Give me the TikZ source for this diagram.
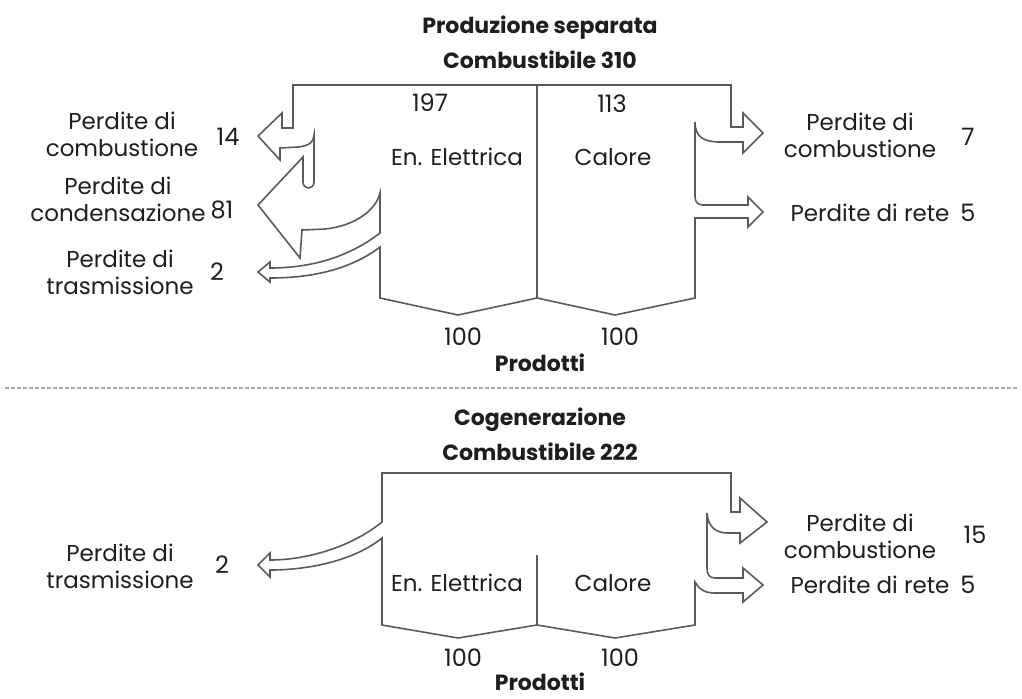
\documentclass[tikz,border=0pt]{standalone}
\usepackage{fontspec}
\setmainfont{Poppins}
\usepackage{tikz}
\definecolor{linea}{HTML}{5A5A5A}
\definecolor{testo}{HTML}{1E1E1E}

\begin{document}
\begin{tikzpicture}[
    x=0.5pt, y=-0.5pt,
    flow/.style={draw=linea, line width=0.8pt, line join=miter},
    lbl/.style={align=center, text=testo, font=\fontsize{11.5}{13.5}\selectfont, inner sep=0pt},
    num/.style={text=testo, font=\fontsize{12}{14}\selectfont, inner sep=0pt},
    head/.style={text=testo, font=\bfseries\fontsize{11}{13}\selectfont, inner sep=0pt}
  ]
    \useasboundingbox (0,0) rectangle (1022,698);

    % produzione separata
    \node[head] (tit1) at (540,28) {Produzione separata};
    \node[head] (comb1) at (540,60) {Combustibile 310};

    \draw[flow] (731,127) -- (731,85) -- (293,85) -- (293,128) -- (282,128) -- (282,113)
      -- (258,136) -- (280,160) -- (280,148) -- (298,147) .. controls (309,146) and (314,142) .. (314,135)
      -- (314,182) .. controls (314,190) and (303,190) .. (303,182) -- (303,157)
      -- (258,205) -- (300,258) -- (302,230) -- (325,229) .. controls (355,226) and (376,210) .. (380,193)
      -- (380,233) .. controls (345,260) and (305,268) .. (270,268) -- (270,262) -- (258,272) -- (270,282)
      -- (270,278) .. controls (310,278) and (350,270) .. (380,247)
      -- (380,298) -- (458,315) -- (537,298) -- (615,315) -- (695,298)
      -- (695,218) -- (748,218) -- (748,227) -- (763,212) -- (748,197) -- (748,205) -- (703,205)
      .. controls (698,205) and (695,202) .. (695,197) -- (695,122)
      .. controls (695,137) and (704,142) .. (720,142) -- (743,142) -- (743,153) -- (763,133)
      -- (743,113) -- (743,127) -- cycle;
    \draw[flow] (537,85) -- (537,298);

    \node[num] (n197) at (430,103) {197};
    \node[num] (n113) at (612,104) {113};
    \node[lbl] (ee1) at (457,157) {En. Elettrica};
    \node[lbl] (cal1) at (613,157) {Calore};
    \node[num] (ea1) at (463,337) {100};
    \node[num] (ca1) at (620,337) {100};
    \node[head] (prod1) at (540,363) {Prodotti};

    \node[lbl] (l14) at (122,134) {Perdite di\\combustione};
    \node[num] (n14) at (228,137) {14};
    \node[lbl] (l81) at (118,199) {Perdite di\\condensazione};
    \node[num] (n81) at (222,210) {81};
    \node[lbl] (l2) at (120,272) {Perdite di\\trasmissione};
    \node[num] (n2) at (217,272) {2};
    \node[lbl] (r7) at (860,135) {Perdite di\\combustione};
    \node[num] (n7) at (968,137) {7};
    \node[lbl] (r5) at (870,213) {Perdite di rete};
    \node[num] (n5) at (968,213) {5};

    \draw[linea!50, line width=0.8pt, dash pattern=on 2pt off 1pt] (5,388) -- (1017,388);

    % cogenerazione
    \node[head] (tit2) at (540,420) {Cogenerazione};
    \node[head] (comb2) at (540,452) {Combustibile 222};

    \draw[flow] (731,512) -- (731,473) -- (382,473) -- (382,522)
      .. controls (350,548) and (305,560) .. (270,560) -- (270,553) -- (258,565) -- (270,577)
      -- (270,570) .. controls (310,570) and (355,560) .. (382,538)
      -- (382,625) -- (458,638) -- (537,625) -- (615,638) -- (695,625)
      -- (695,582) .. controls (700,590) and (705,593) .. (715,593) -- (743,593) -- (743,602)
      -- (763,585) -- (743,568) -- (743,578) -- (715,578) .. controls (709,578) and (707,574) .. (707,568)
      -- (707,513) .. controls (708,528) and (717,533) .. (728,533) -- (740,533) -- (740,543)
      -- (767,522) -- (740,498) -- (740,512) -- cycle;
    \draw[flow] (537,555) -- (537,625);

    \node[lbl] (ee2) at (457,583) {En. Elettrica};
    \node[lbl] (cal2) at (613,583) {Calore};
    \node[num] (ea2) at (463,658) {100};
    \node[num] (ca2) at (620,658) {100};
    \node[head] (prod2) at (540,682) {Prodotti};

    \node[lbl] (l2b) at (120,566) {Perdite di\\trasmissione};
    \node[num] (n2b) at (222,565) {2};
    \node[lbl] (r15) at (860,536) {Perdite di\\combustione};
    \node[num] (n15) at (975,535) {15};
    \node[lbl] (r5b) at (870,585) {Perdite di rete};
    \node[num] (n5b) at (968,585) {5};

  \end{tikzpicture}
\end{document}
